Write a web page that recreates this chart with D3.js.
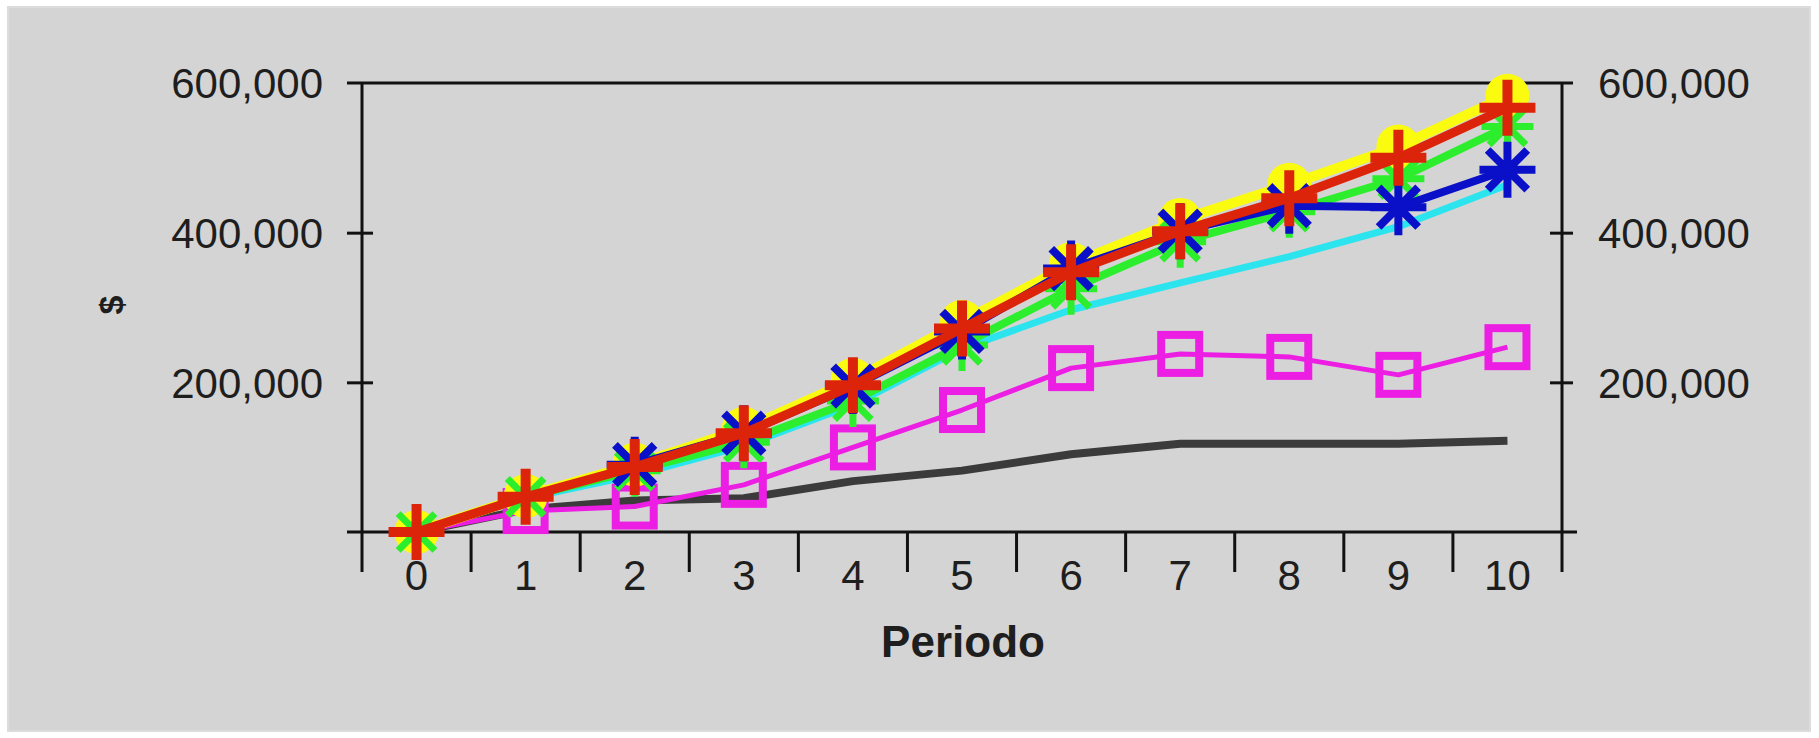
<!DOCTYPE html>
<html>
<head>
<meta charset="utf-8">
<script src="https://cdn.jsdelivr.net/npm/d3@7"></script>
<style>
  body { margin: 0; background: #fff; }
  svg { display: block; }
  text { font-family: "Liberation Sans", Arial, sans-serif; fill: #1e1e1e; }
</style>
</head>
<body>
<div id="chart"></div>
<script>
// values, one array per series
const periodos = ['0', '1', '2', '3', '4', '5', '6', '7', '8', '9', '10'];
const yTicks = [0, 200000, 400000, 600000];

const serieNegra = [0, 30000, 42000, 45000, 68000, 82000, 104000, 118000, 118000, 118000, 122000];
const serieMagenta = [0, 28000, 34000, 63000, 113000, 163000, 219000, 238000, 234000, 210000, 247000];
const serieCian = [0, 45000, 76000, 115000, 170000, 245000, 297000, 333000, 368000, 408000, 464000];
const serieAmarilla = [0, 48000, 90000, 138000, 203000, 281000, 358000, 417000, 464000, 515000, 583000];
const serieVerde = [0, 47000, 82000, 120000, 175000, 250000, 325000, 388000, 428000, 472000, 542000];
const serieAzul = [null, null, 90000, 132000, 195000, 268000, 352000, 402000, 436000, 434000, 484000];
const serieRoja = [0, 47000, 87000, 132000, 196000, 272000, 347000, 402000, 446000, 500000, 567000];

const width = 1819;
const height = 738;

const svg = d3.select('#chart')
  .append('svg')
  .attr('width', width)
  .attr('height', height);

// gray panel
svg.append('rect')
  .attr('x', 8).attr('y', 7)
  .attr('width', 1802).attr('height', 724)
  .attr('fill', '#d4d4d4')
  .attr('stroke', '#dcdcdc')
  .attr('stroke-width', 2);

const x = d3.scaleBand().domain(periodos).range([362, 1562]);
const y = d3.scaleLinear().domain([0, 600000]).range([532, 83]);
const cx = (d, i) => x(periodos[i]) + x.bandwidth() / 2;
const fmt = d3.format(',');

// frame / axes
const axisColor = '#111';
svg.append('line')
  .attr('x1', 347).attr('x2', 1573)
  .attr('y1', y(600000)).attr('y2', y(600000))
  .attr('stroke', axisColor).attr('stroke-width', 3);

svg.append('line')
  .attr('x1', 347).attr('x2', 1577)
  .attr('y1', y(0)).attr('y2', y(0))
  .attr('stroke', axisColor).attr('stroke-width', 3);

// left axis
svg.append('g')
  .attr('transform', 'translate(362,0)')
  .call(d3.axisLeft(y).tickValues(yTicks.slice(1, 3)).tickSize(15)
    .tickFormat(d => fmt(d)))
  .call(g => g.select('.domain').remove())
  .call(g => g.selectAll('.tick line').attr('x2', -15).attr('x1', 11)
    .attr('stroke', axisColor).attr('stroke-width', 3))
  .call(g => g.selectAll('.tick text').attr('font-size', 42).attr('dy', '0.36em').attr('x', -39));

// right axis
svg.append('g')
  .attr('transform', 'translate(1562,0)')
  .call(d3.axisRight(y).tickValues(yTicks.slice(1, 3)).tickSize(11)
    .tickFormat(d => fmt(d)))
  .call(g => g.select('.domain').remove())
  .call(g => g.selectAll('.tick line').attr('x1', -12).attr('x2', 11)
    .attr('stroke', axisColor).attr('stroke-width', 3))
  .call(g => g.selectAll('.tick text').attr('font-size', 42).attr('dy', '0.36em').attr('x', 36));

// labels for the 600,000 line on both sides
svg.append('text')
  .attr('x', 323).attr('y', y(600000)).attr('dy', '0.36em')
  .attr('text-anchor', 'end').attr('font-size', 42)
  .text(fmt(yTicks[3]));
svg.append('text')
  .attr('x', 1598).attr('y', y(600000)).attr('dy', '0.36em')
  .attr('font-size', 42)
  .text(fmt(yTicks[3]));

// vertical frame sides go down past the x axis
[362, 1562].forEach(px => {
  svg.append('line')
    .attr('x1', px).attr('x2', px)
    .attr('y1', y(600000)).attr('y2', 572)
    .attr('stroke', axisColor).attr('stroke-width', 3);
});

// x axis: band boundary ticks + category labels
svg.append('g')
  .attr('transform', `translate(0,${y(0)})`)
  .call(d3.axisBottom(x).tickSize(0).tickPadding(28))
  .call(g => g.select('.domain').remove())
  .call(g => g.selectAll('.tick text').attr('font-size', 42));

svg.selectAll('.band-tick')
  .data(periodos.slice(1))
  .enter()
  .append('line')
  .attr('class', 'band-tick')
  .attr('x1', d => x(d)).attr('x2', d => x(d))
  .attr('y1', y(0)).attr('y2', 572)
  .attr('stroke', axisColor).attr('stroke-width', 3);

// axis titles
svg.append('text')
  .attr('x', 963).attr('y', 657)
  .attr('text-anchor', 'middle')
  .attr('font-size', 44).attr('font-weight', 'bold')
  .text('Periodo');

svg.append('text')
  .attr('transform', 'translate(123,305) rotate(-90)')
  .attr('text-anchor', 'middle')
  .attr('font-size', 34).attr('font-weight', 'bold')
  .text('$');

// series
const line = d3.line()
  .defined(d => d != null)
  .x(cx)
  .y(d => y(d));

const starPath = (r) => {
  let p = '';
  for (let k = 0; k < 4; k++) {
    const a = k * Math.PI / 4;
    const dx = r * Math.cos(a), dy = r * Math.sin(a);
    p += `M${-dx},${-dy}L${dx},${dy}`;
  }
  return p;
};
const plusPath = (r) => `M${-r},0L${r},0M0,${-r}L0,${r}`;

const series = [
  { data: serieNegra, color: '#3b3b3b', width: 8 },
  { data: serieMagenta, color: '#ec1ee4', width: 5, marker: 'square', size: 19, mw: 8, skip: [0] },
  { data: serieCian, color: '#2ce4ee', width: 7 },
  { data: serieAmarilla, color: '#fbfb10', width: 10, marker: 'circle', size: 22 },
  { data: serieVerde, color: '#2cee2c', width: 8, marker: 'star', size: 26, mw: 7 },
  { data: serieAzul, color: '#0a10c8', width: 8, marker: 'star', size: 28, mw: 8 },
  { data: serieRoja, color: '#dc240a', width: 9, marker: 'plus', size: 28, mw: 10 }
];

series.forEach(s => {
  const g = svg.append('g');
  g.append('path')
    .datum(s.data)
    .attr('d', line)
    .attr('fill', 'none')
    .attr('stroke', s.color)
    .attr('stroke-width', s.width)
    .attr('stroke-linejoin', 'round');

  if (!s.marker) return;
  const skip = s.skip || [];
  const pts = s.data.map((v, i) => ({ v, i }))
    .filter(d => d.v != null && !skip.includes(d.i));

  const m = g.selectAll('.m')
    .data(pts)
    .enter();

  if (s.marker === 'circle') {
    m.append('circle')
      .attr('cx', d => cx(d.v, d.i)).attr('cy', d => y(d.v))
      .attr('r', s.size)
      .attr('fill', s.color);
  } else if (s.marker === 'square') {
    m.append('rect')
      .attr('x', d => cx(d.v, d.i) - s.size).attr('y', d => y(d.v) - s.size)
      .attr('width', s.size * 2).attr('height', s.size * 2)
      .attr('fill', 'none')
      .attr('stroke', s.color).attr('stroke-width', s.mw);
  } else {
    const dPath = s.marker === 'star' ? starPath(s.size) : plusPath(s.size);
    m.append('path')
      .attr('transform', d => `translate(${cx(d.v, d.i)},${y(d.v)})`)
      .attr('d', dPath)
      .attr('fill', 'none')
      .attr('stroke', s.color).attr('stroke-width', s.mw);
  }
});
</script>
</body>
</html>
